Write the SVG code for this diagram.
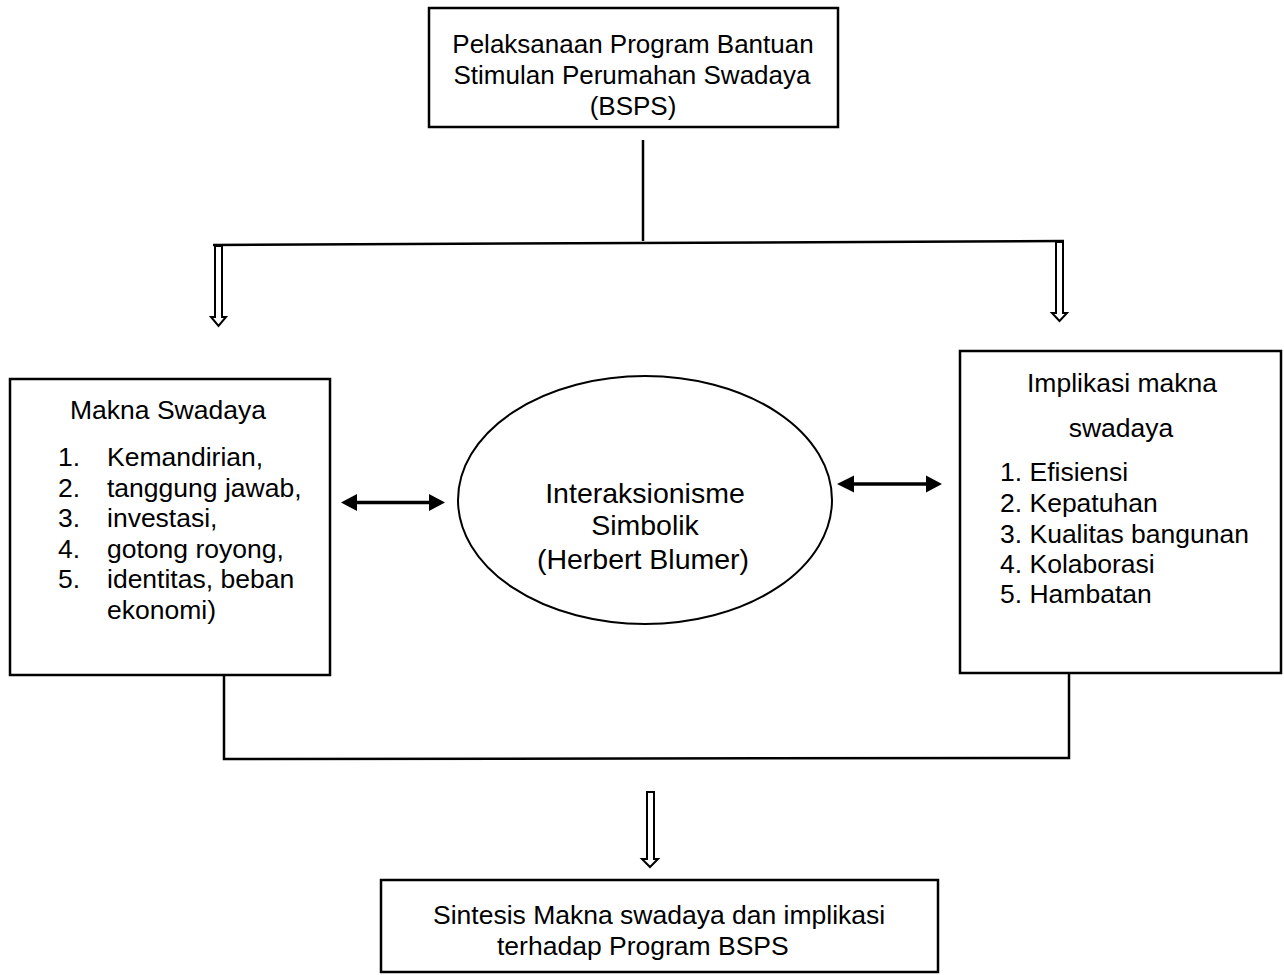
<svg xmlns="http://www.w3.org/2000/svg" width="1284" height="975" viewBox="0 0 1284 975">
<style>
.box{fill:#fff;stroke:#000;stroke-width:2.5}
.ln{fill:none;stroke:#000;stroke-width:2.5}
.hollow{fill:#fff;stroke:#000;stroke-width:2}
.dbl{stroke:#000;stroke-width:3.5;fill:none}
.head{fill:#000}
text{font-family:"Liberation Sans",Arial,sans-serif;font-size:26px;fill:#000}
.c{text-anchor:middle}
.b{font-size:26.5px}
.e{font-size:28.5px}
</style>
<rect width="1284" height="975" fill="#fff"/>
<g id="connectors">
<line class="ln" x1="643" y1="140" x2="643" y2="241"/>
<line class="ln" x1="213" y1="245" x2="1064" y2="241"/>
<path class="hollow" d="M215,246 V317 H211 L218.5,326 L226,317 H222 V246 Z"/>
<path class="hollow" d="M1056,242 V313 H1052 L1059.5,321 L1067,313 H1063 V242 Z"/>
<polyline class="ln" points="224,675 224,759 1069,758 1069,673"/>
<path class="hollow" d="M647,792 V859 H642 L650,867 L658,859 H654 V792 Z"/>
<line class="dbl" x1="352" y1="502.5" x2="434" y2="502.5"/>
<polygon class="head" points="341,502.5 357,494 357,511"/>
<polygon class="head" points="445,502.5 429,494 429,511"/>
<line class="dbl" x1="848" y1="484" x2="931" y2="484"/>
<polygon class="head" points="837,484 854,475.5 854,492.5"/>
<polygon class="head" points="942,484 926,475.5 926,492.5"/>
</g>
<g id="top">
<rect class="box" x="429" y="8" width="409" height="119"/>
<text class="c" x="633" y="53">Pelaksanaan Program Bantuan</text>
<text class="c" x="632" y="84">Stimulan Perumahan Swadaya</text>
<text class="c" x="633" y="115">(BSPS)</text>
</g>
<g id="makna">
<rect class="box" x="10" y="379" width="320" height="296"/>
<text class="b" x="70" y="419">Makna Swadaya</text>
<text class="b" x="58" y="466">1.</text><text class="b" x="107" y="466">Kemandirian,</text>
<text class="b" x="58" y="497">2.</text><text class="b" x="107" y="497">tanggung jawab,</text>
<text class="b" x="58" y="527">3.</text><text class="b" x="107" y="527">investasi,</text>
<text class="b" x="58" y="558">4.</text><text class="b" x="107" y="558">gotong royong,</text>
<text class="b" x="58" y="588">5.</text><text class="b" x="107" y="588">identitas, beban</text>
<text class="b" x="107" y="619">ekonomi)</text>
</g>
<g id="interaksionisme">
<ellipse cx="645" cy="500" rx="187" ry="124" fill="#fff" stroke="#000" stroke-width="2"/>
<text class="c e" x="645" y="503">Interaksionisme</text>
<text class="c e" x="645" y="535">Simbolik</text>
<text class="c e" x="643" y="569">(Herbert Blumer)</text>
</g>
<g id="implikasi">
<rect class="box" x="960" y="351" width="321" height="322"/>
<text class="c b" x="1122" y="392">Implikasi makna</text>
<text class="c b" x="1121" y="437">swadaya</text>
<text class="b" x="1000" y="481">1. Efisiensi</text>
<text class="b" x="1000" y="512">2. Kepatuhan</text>
<text class="b" x="1000" y="543">3. Kualitas bangunan</text>
<text class="b" x="1000" y="573">4. Kolaborasi</text>
<text class="b" x="1000" y="603">5. Hambatan</text>
</g>
<g id="sintesis">
<rect class="box" x="381" y="880" width="557" height="92"/>
<text class="b" x="433" y="924">Sintesis Makna swadaya dan implikasi</text>
<text class="b" x="497" y="955">terhadap Program BSPS</text>
</g>
</svg>
